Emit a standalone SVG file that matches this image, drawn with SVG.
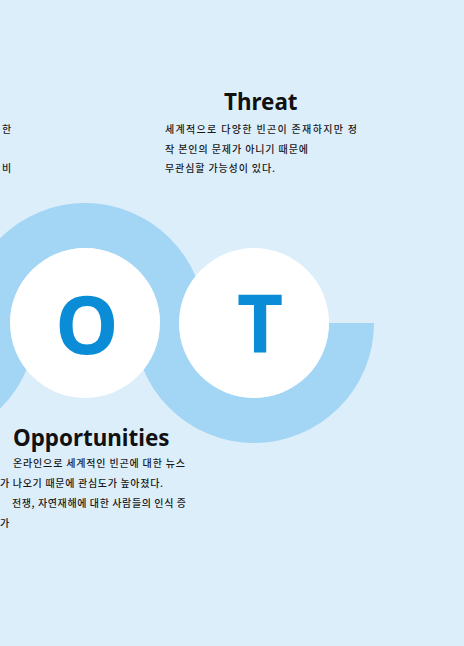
<svg xmlns="http://www.w3.org/2000/svg" width="464" height="646" viewBox="0 0 464 646">
  <style>
    .ring { fill: #a3d5f4; }
    .disc { fill: #ffffff; }
    .letter { font-family: "Noto Sans", "Open Sans", sans-serif; font-weight: 700; font-size: 80px; fill: #0a8dd6; text-anchor: middle; }
    .title { font-family: "Noto Sans", "Open Sans", sans-serif; font-weight: 700; font-size: 22.4px; fill: #111111; }
    .body { font-family: "Noto Sans CJK KR", "Noto Sans", sans-serif; font-size: 10px; font-weight: 500; fill: #1a1a1a; }
  </style>
  <rect x="0" y="0" width="464" height="646" fill="#ddeefb"/>
  <g id="connectors">
    <path class="ring" d="M -204 323 A 120 120 0 0 0 36 323 L -9 323 A 75 75 0 0 1 -159 323 Z"/>
    <path class="ring" d="M -35 323 A 120 120 0 0 1 205 323 L 160 323 A 75 75 0 0 0 10 323 Z"/>
    <path class="ring" d="M 134 323 A 120 120 0 0 0 374 323 L 329 323 A 75 75 0 0 1 179 323 Z"/>
  </g>
  <g id="node-weakness-text">
    <text class="body" x="2" y="133">한</text>
    <text class="body" x="2" y="172">비</text>
  </g>
  <g id="node-o">
    <circle class="disc" cx="85" cy="323" r="75"/>
    <text class="letter" x="87" y="354">O</text>
  </g>
  <g id="node-t">
    <circle class="disc" cx="254" cy="323" r="75"/>
    <text class="letter" x="260" y="353">T</text>
  </g>
  <g id="node-threat">
    <text class="title" x="224" y="110">Threat</text>
    <text class="body" x="165" y="133" textLength="192">세계적으로 다양한 빈곤이 존재하지만 정</text>
    <text class="body" x="165" y="153" textLength="143">작 본인의 문제가 아니기 때문에</text>
    <text class="body" x="165" y="172" textLength="110">무관심할 가능성이 있다.</text>
  </g>
  <g id="node-opportunities">
    <text class="title" x="13" y="446">Opportunities</text>
    <text class="body" x="13" y="467" textLength="172">온라인으로 세계적인 빈곤에 대한 뉴스</text>
    <text class="body" x="0" y="487" textLength="163">가 나오기 때문에 관심도가 높아졌다.</text>
    <text class="body" x="12" y="507" textLength="174">전쟁, 자연재해에 대한 사람들의 인식 증</text>
    <text class="body" x="0" y="527">가</text>
  </g>
</svg>
